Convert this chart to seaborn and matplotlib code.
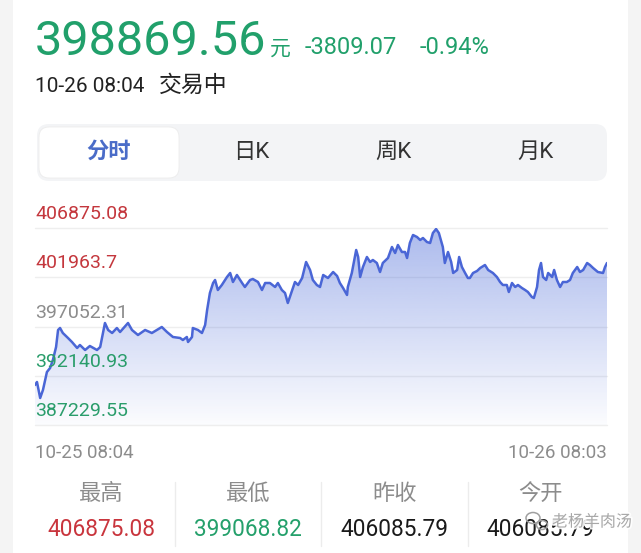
import numpy as np
import pandas as pd
import matplotlib.pyplot as plt
import matplotlib.patheffects as pe
from matplotlib.patches import Rectangle, FancyBboxPatch, Ellipse
import seaborn as sns

# ---------------- data ----------------
price_now = "398869.56"
change = "-3809.07"
change_pct = "-0.94%"
quote_time = "10-26 08:04"
status = "交易中"
tabs = ["分时", "日K", "周K", "月K"]

# minutes since 10-25 08:04 and price
minutes = [0, 5, 13, 20, 30, 38, 45, 53, 58, 63, 70, 83, 93, 106, 113, 126, 138, 156,
           164, 176, 184, 194, 206, 214, 234, 244, 259, 277, 294, 319, 332, 347, 365,
           372, 382, 385, 395, 397, 410, 420, 428, 433, 440, 448, 453, 460, 470, 483,
           491, 498, 508, 521, 528, 541, 548, 561, 571, 579, 591, 604, 611, 621, 629,
           636, 647, 654, 662, 672, 682, 692, 699, 709, 717, 725, 737, 750, 760, 767,
           775, 785, 787, 797, 808, 813, 818, 825, 835, 843, 850, 860, 868, 875, 888,
           898, 906, 913, 923, 931, 936, 943, 951, 961, 969, 976, 986, 994, 1001, 1009,
           1016, 1026, 1031, 1039, 1047, 1052, 1062, 1067, 1074, 1082, 1089, 1094, 1102,
           1112, 1120, 1132, 1140, 1152, 1162, 1170, 1177, 1187, 1192, 1200, 1208, 1215,
           1225, 1233, 1240, 1250, 1255, 1263, 1268, 1273, 1278, 1286, 1291, 1301, 1306,
           1313, 1321, 1328, 1338, 1346, 1353, 1364, 1371, 1379, 1389, 1396, 1404, 1416,
           1429, 1434, 1439]
prices = [391219, 391518, 389922, 390720, 392515, 392917, 393712, 395008, 396704, 396903,
          396404, 395906, 395507, 394909, 395208, 394709, 395108, 394709, 395008, 397402,
          396704, 396404, 396903, 396504, 397402, 396704, 396205, 396704, 396404, 397003,
          396504, 396006, 395906, 395706, 396006, 395507, 396006, 396903, 396704, 396404,
          397202, 398697, 400393, 401390, 401690, 400692, 401191, 401989, 402388, 401490,
          402188, 401390, 400992, 401690, 401789, 401490, 400692, 401390, 401390, 400992,
          401390, 400692, 400393, 399396, 400692, 401490, 401191, 401889, 403485, 402687,
          401690, 401191, 400992, 402188, 401889, 402487, 402088, 401390, 400892, 400194,
          400992, 402388, 404681, 403983, 401989, 402986, 403983, 403485, 403684, 403385,
          402487, 403385, 403883, 404980, 404382, 405180, 404482, 404482, 403883, 405379,
          406177, 405978, 405678, 405878, 405479, 405379, 406376, 406775, 406376, 404980,
          403385, 404482, 403485, 402388, 402687, 403983, 402986, 402388, 401889, 401889,
          402388, 402587, 402886, 403185, 402687, 402388, 401989, 401490, 401191, 401191,
          400493, 401390, 400992, 401191, 400892, 400692, 400493, 399994, 399895, 400992,
          402687, 403385, 401989, 401690, 402388, 401989, 402687, 401690, 400992, 401490,
          401490, 401690, 402388, 402986, 402487, 402687, 403385, 403185, 402886, 402487,
          402388, 402986, 403385]

ytick_values = [406875.08, 401963.7, 397052.31, 392140.93, 387229.55]
ytick_labels = ["406875.08", "401963.7", "397052.31", "392140.93", "387229.55"]
ytick_colors = ["#c4373d", "#c4373d", "#8c8c8c", "#2a9d6b", "#2a9d6b"]
time_start = "10-25 08:04"
time_end = "10-26 08:03"

stat_names = ["最高", "最低", "昨收", "今开"]
stat_values = ["406875.08", "399068.82", "406085.79", "406085.79"]
stat_colors = ["#c9353d", "#24a06b", "#1a1a1a", "#1a1a1a"]
watermark = "老杨羊肉汤"

df = pd.DataFrame({"minute": minutes, "price": prices})

# ---------------- style ----------------
sns.set_theme(style="white")
plt.rcParams['font.family'] = ['Roboto', 'Noto Sans CJK SC', 'DejaVu Sans']

W, H = 641, 553
fig = plt.figure(figsize=(W / 100, H / 100), dpi=100)
fig.patch.set_facecolor("#f4f4f4")

# background / page in pixel coords
bg = fig.add_axes([0, 0, 1, 1], zorder=0)
bg.set_xlim(0, W)
bg.set_ylim(H, 0)
bg.axis("off")
bg.add_patch(Rectangle((13, 0), 615, H, fc="white", ec="none"))

green = "#21a06b"
bg.text(35, 55, price_now, fontsize=35, color=green, va="baseline", ha="left")
bg.text(270, 55, "元", fontsize=15, color=green, va="baseline", ha="left")
bg.text(305, 54, change, fontsize=17, color=green, va="baseline", ha="left")
bg.text(420, 54, change_pct, fontsize=17, color=green, va="baseline", ha="left")
bg.text(35, 92, quote_time, fontsize=15, color="#222222", va="baseline", ha="left")
bg.text(159, 92, status, fontsize=16.5, color="#222222", va="baseline", ha="left")

# tab bar
bg.add_patch(FancyBboxPatch((37, 124), 570, 57,
                            boxstyle="round,pad=0,rounding_size=12",
                            fc="#f3f4f6", ec="none"))
bg.add_patch(FancyBboxPatch((39, 127), 140, 51,
                            boxstyle="round,pad=0,rounding_size=10",
                            fc="white", ec="#ececec", lw=0.6))
tab_w = 570 / len(tabs)
for i, t in enumerate(tabs):
    bg.text(37 + tab_w * (i + 0.5), 152, t, fontsize=16,
            color="#4a6cc8" if i == 0 else "#333333",
            fontweight="bold" if i == 0 else "normal",
            ha="center", va="center")

# time labels
bg.text(35, 458, time_start, fontsize=13.5, color="#8c8c8c", ha="left", va="baseline")
bg.text(607, 458, time_end, fontsize=13.5, color="#8c8c8c", ha="right", va="baseline")

# stats row
col_w = 586 / len(stat_names)
for i, (n, v, c) in enumerate(zip(stat_names, stat_values, stat_colors)):
    cx = 28 + col_w * (i + 0.5)
    bg.text(cx, 494, n, fontsize=16, color="#8c8c8c", ha="center", va="center")
    bg.text(cx, 530, v, fontsize=16.3, color=c, ha="center", va="center")
    if i > 0:
        bg.plot([28 + col_w * i] * 2, [482, 546], color="#ececec", lw=1)

# ---------------- chart ----------------
ax = fig.add_axes([35 / W, (H - 425) / H, 572 / W, 197 / H], zorder=1)
ax.patch.set_alpha(0)
ymin, ymax = ytick_values[-1], ytick_values[0]

for yv in ytick_values:
    ax.axhline(yv, color="#eeeeee", lw=1, zorder=0, clip_on=False)

line_color = "#4a66d6"
poly = ax.fill_between(df["minute"], df["price"], ymin, color="none", lw=0)
grad = np.zeros((256, 1, 4))
grad[:, 0, 0:3] = np.array([74, 106, 216]) / 255
grad[:, 0, 3] = np.linspace(0.46, 0.02, 256)
im = ax.imshow(grad, extent=[df["minute"].min(), df["minute"].max(), ymin, ymax],
               aspect="auto", origin="upper", zorder=1)
im.set_clip_path(poly.get_paths()[0], transform=ax.transData)

sns.lineplot(data=df, x="minute", y="price", ax=ax, color=line_color,
             linewidth=1.8, zorder=3)

ax.set_xlim(df["minute"].min(), df["minute"].max())
ax.set_ylim(ymin, ymax)
ax.set_xticks([])
ax.set_yticks([])
ax.set_xlabel("")
ax.set_ylabel("")
for s in ax.spines.values():
    s.set_visible(False)

for yv, lab, c in zip(ytick_values, ytick_labels, ytick_colors):
    ax.annotate(lab, xy=(0, yv), xycoords=("axes fraction", "data"),
                xytext=(0, 9), textcoords="offset pixels",
                fontsize=14, color=c, ha="left", va="baseline", zorder=4)

# watermark
wm = fig.add_axes([0, 0, 1, 1], zorder=5)
wm.set_xlim(0, W)
wm.set_ylim(H, 0)
wm.axis("off")
wm.add_patch(Ellipse((533, 518), 14, 11, fill=False, ec="#a0a0a0", lw=1.1))
wm.add_patch(Ellipse((542, 525), 11, 9, fill=False, ec="#a0a0a0", lw=1.1))
wm.text(552, 522, watermark, fontsize=11.5, color="#a0a0a0", alpha=0.9,
        ha="left", va="center",
        path_effects=[pe.withStroke(linewidth=2.5, foreground="white")])

fig.savefig("out.png", dpi=100)
